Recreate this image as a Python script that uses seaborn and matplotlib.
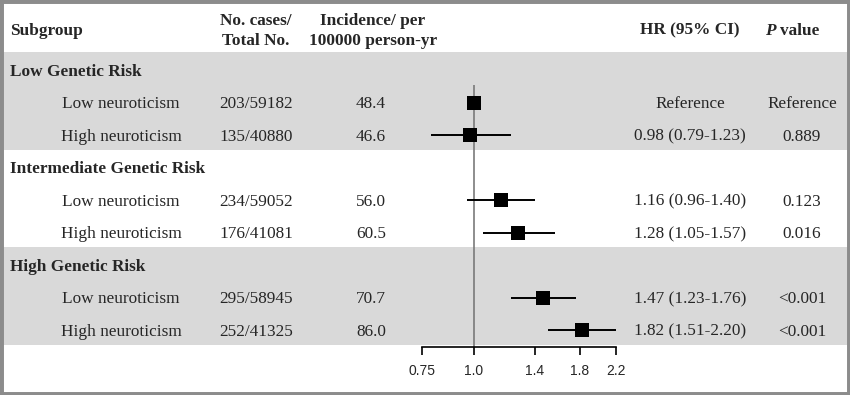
import numpy as np
import pandas as pd
import matplotlib
matplotlib.use("Agg")
import matplotlib.pyplot as plt
from matplotlib.patches import Rectangle
import seaborn as sns

groups = ["Low Genetic Risk", "Intermediate Genetic Risk", "High Genetic Risk"]
subgroups = ["Low neuroticism", "High neuroticism"]
cases = ["203/59182", "135/40880", "234/59052", "176/41081", "295/58945", "252/41325"]
incidence = ["48.4", "46.6", "56.0", "60.5", "70.7", "86.0"]
hr = [1.00, 0.98, 1.16, 1.28, 1.47, 1.82]
ci_low = [np.nan, 0.79, 0.96, 1.05, 1.23, 1.51]
ci_high = [np.nan, 1.23, 1.40, 1.57, 1.76, 2.20]
hr_text = ["Reference", "0.98 (0.79-1.23)", "1.16 (0.96-1.40)",
           "1.28 (1.05-1.57)", "1.47 (1.23-1.76)", "1.82 (1.51-2.20)"]
p_text = ["Reference", "0.889", "0.123", "0.016", "<0.001", "<0.001"]
x_ticks = [0.75, 1.0, 1.4, 1.8, 2.2]
x_ticklabels = ["0.75", "1.0", "1.4", "1.8", "2.2"]

sns.set_style("white")
plt.rcParams['font.family'] = ['Liberation Serif', 'DejaVu Serif']

W, H = 850, 395
fig = plt.figure(figsize=(W / 100, H / 100), dpi=100)

# background axes in pixel units for the table text
bg = fig.add_axes([0, 0, 1, 1])
bg.set_xlim(0, W)
bg.set_ylim(H, 0)
bg.axis("off")

row_h = 32.5
y0 = 70
FS = 12.4
base = 5.8  # baseline sits half a cap height below the row centre
band_col = "#d9d9d9"


def cell(x, y, s, ha="center", **kw):
    bg.text(x, y + base, s, fontsize=FS, ha=ha, va="baseline", **kw)


# row y positions: each group = header row + 2 subgroup rows
rows = []
for g in range(len(groups)):
    yg = y0 + g * 3 * row_h
    rows.append(("group", g, yg))
    for s in range(len(subgroups)):
        rows.append(("item", g * 2 + s, yg + (s + 1) * row_h))

# shaded bands for first and third groups
for g in (0, 2):
    yg = y0 + g * 3 * row_h
    top = yg - 0.55 * row_h
    bot = yg + 2 * row_h + 0.47 * row_h
    bg.add_patch(Rectangle((0, top), W, bot - top, color=band_col, lw=0, zorder=0))

# header
cell(10, 29, "Subgroup", ha="left", weight="bold")
cell(256, 19, "No. cases/", weight="bold")
cell(256, 39.5, "Total No.", weight="bold")
cell(373, 19, "Incidence/ per", weight="bold")
cell(373, 39.5, "100000 person-yr", weight="bold")
cell(690, 29, "HR (95% CI)", weight="bold")
cell(776, 29, "P", ha="right", weight="bold", style="italic")
cell(780, 29, "value", ha="left", weight="bold")

item_y = []
for kind, idx, y in rows:
    if kind == "group":
        cell(10, y, groups[idx], ha="left", weight="bold")
    else:
        item_y.append(y)
        cell(121, y, subgroups[idx % 2])
        cell(256, y, cases[idx])
        cell(371, y, incidence[idx])
        cell(690, y, hr_text[idx])
        cell(802, y, p_text[idx])

# forest plot axes, log scale, same vertical pixel units
x_left, x_right = 422, 616
ax = fig.add_axes([x_left / W, 0, (x_right - x_left) / W, 1])
ax.patch.set_alpha(0)
ax.set_xscale("log")
ax.set_xlim(x_ticks[0], x_ticks[-1])
ax.set_ylim(H, 0)

df = pd.DataFrame({"hr": hr, "lo": ci_low, "hi": ci_high, "y": item_y})

ax.vlines(1.0, 85, 347, color="#7a7a7a", lw=1.2, zorder=1)
ci = df.dropna()
ax.hlines(ci["y"], ci["lo"], ci["hi"], color="black", lw=1.4, zorder=2, clip_on=False)
sns.scatterplot(data=df, x="hr", y="y", marker="s", s=90, color="black",
                linewidth=0, ax=ax, zorder=3, clip_on=False, legend=False)

for side in ("left", "right", "top"):
    ax.spines[side].set_visible(False)
ax.spines["bottom"].set_position(("data", 347))
ax.spines["bottom"].set_color("black")
ax.spines["bottom"].set_linewidth(1.2)
ax.set_yticks([])
ax.set_xticks(x_ticks)
ax.set_xticklabels(x_ticklabels, family=["Liberation Sans", "DejaVu Sans"], fontsize=10)
ax.minorticks_off()
ax.tick_params(axis="x", direction="out", length=5.5, width=1.2, color="black", pad=7,
               bottom=True)
ax.set_xlabel("")
ax.set_ylabel("")

# gray frame around the whole picture
fig.patches.append(Rectangle((0, 0), 1, 1, transform=fig.transFigure, fill=False,
                             edgecolor="#8c8c8c", lw=5, zorder=10))

fig.savefig("out.png", dpi=100)
